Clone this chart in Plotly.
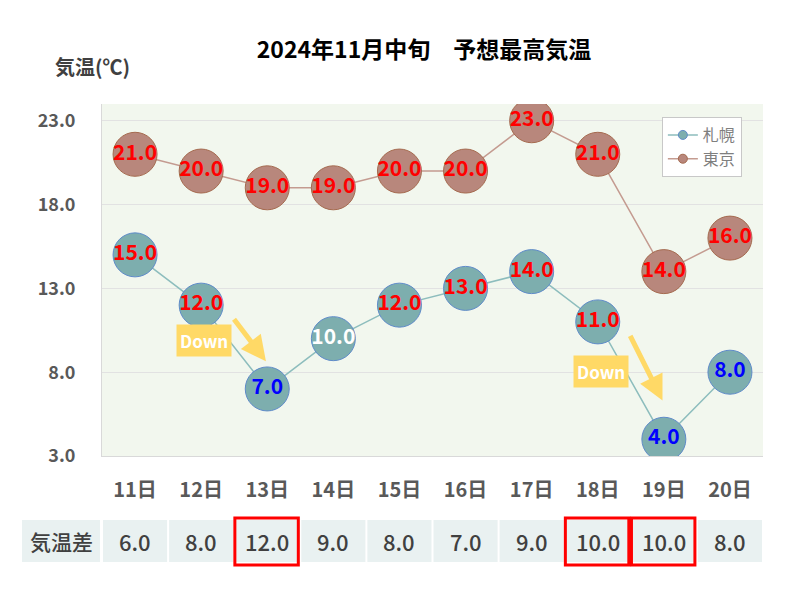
import plotly.graph_objects as go

days = ["11日", "12日", "13日", "14日", "15日", "16日", "17日", "18日", "19日", "20日"]
sapporo = [15.0, 12.0, 7.0, 10.0, 12.0, 13.0, 14.0, 11.0, 4.0, 8.0]
tokyo = [21.0, 20.0, 19.0, 19.0, 20.0, 20.0, 23.0, 21.0, 14.0, 16.0]
diff = [6.0, 8.0, 12.0, 9.0, 8.0, 7.0, 9.0, 10.0, 10.0, 8.0]
highlight_days = ["13日", "18日", "19日"]
down_from = ["12日", "18日"]

RED, BLUE, WHITE = "#ff0000", "#0000ff", "#ffffff"
sapporo_text_colors = [RED, RED, BLUE, WHITE, RED, RED, RED, RED, BLUE, BLUE]
tokyo_text_colors = [RED] * len(tokyo)

FONT = "Noto Sans CJK JP"
idx = list(range(len(days)))
N = len(days)

S_LINE, S_FILL, S_EDGE = "#8dbdbd", "#7daeae", "#5f8bc9"
T_LINE, T_FILL, T_EDGE = "#c49b90", "#b8877c", "#a56a4f"

fig = go.Figure()

# legend-only entries
fig.add_trace(go.Scatter(x=[None], y=[None], name="札幌", mode="lines+markers",
                         line=dict(color=S_LINE, width=1.5),
                         marker=dict(size=9, color=S_FILL, line=dict(color=S_EDGE, width=1))))
fig.add_trace(go.Scatter(x=[None], y=[None], name="東京", mode="lines+markers",
                         line=dict(color=T_LINE, width=1.5),
                         marker=dict(size=9, color=T_FILL, line=dict(color=T_EDGE, width=1))))

fig.add_trace(go.Scatter(
    x=idx, y=sapporo, mode="lines+markers+text", showlegend=False,
    text=[f"{v:.1f}" for v in sapporo], textposition="middle center",
    textfont=dict(family=FONT, size=21, color=sapporo_text_colors, weight="bold"),
    line=dict(color=S_LINE, width=1.5),
    marker=dict(size=44, color=S_FILL, line=dict(color=S_EDGE, width=1)),
    hoverinfo="skip"))
fig.add_trace(go.Scatter(
    x=idx, y=tokyo, mode="lines+markers+text", showlegend=False,
    text=[f"{v:.1f}" for v in tokyo], textposition="middle center",
    textfont=dict(family=FONT, size=21, color=tokyo_text_colors, weight="bold"),
    line=dict(color=T_LINE, width=1.5),
    marker=dict(size=44, color=T_FILL, line=dict(color=T_EDGE, width=1)),
    hoverinfo="skip"))

shapes = []
annotations = []


def px(i):
    """category index -> paper x"""
    return (i + 0.5) / N


# Table row
ROW_Y0, ROW_Y1 = -0.301, -0.182
ROW_YM = (ROW_Y0 + ROW_Y1) / 2
CELL = "#e9f1f1"
shapes.append(dict(type="rect", xref="paper", yref="paper", x0=px(-1.71), x1=px(-0.53),
                   y0=ROW_Y0, y1=ROW_Y1, fillcolor=CELL, line=dict(width=0), layer="below"))
annotations.append(dict(xref="paper", yref="paper", x=px(-1.12), y=ROW_YM,
                        xanchor="center", yanchor="middle", text="気温差", showarrow=False,
                        font=dict(family=FONT, size=21, color="#404040", weight=500)))
for i, d in enumerate(diff):
    shapes.append(dict(type="rect", xref="paper", yref="paper", x0=px(i - 0.485), x1=px(i + 0.485),
                       y0=ROW_Y0, y1=ROW_Y1, fillcolor=CELL, line=dict(width=0), layer="below"))
    annotations.append(dict(xref="paper", yref="paper", x=px(i), y=ROW_YM,
                            xanchor="center", yanchor="middle",
                            text=f"{d:.1f}", showarrow=False,
                            font=dict(family=FONT, size=22, color="#404040", weight=500)))
for day in highlight_days:
    i = days.index(day)
    shapes.append(dict(type="rect", xref="paper", yref="paper", x0=px(i - 0.49), x1=px(i + 0.47),
                       y0=-0.310, y1=-0.176, line=dict(color="#ff0000", width=3)))

# Down annotations
ARROW = "#ffd966"
for day in down_from:
    i = days.index(day)
    y_from = sapporo[i]
    y_to = sapporo[i + 1]
    annotations.append(dict(
        x=i + 0.98, y=y_to + (y_from - y_to) * 0.33,
        ax=i + 0.48, ay=y_from - 0.75,
        xref="x", yref="y", axref="x", ayref="y",
        text="", showarrow=True, arrowhead=2, arrowsize=1.0, arrowwidth=5,
        arrowcolor=ARROW))
    annotations.append(dict(
        x=i + 0.05, y=y_to + (y_from - y_to) * 0.58,
        xref="x", yref="y", text="<b>Down</b>", showarrow=False,
        bgcolor=ARROW, borderpad=3,
        font=dict(family=FONT, size=17, color="#ffffff")))

# Axis title
annotations.append(dict(xref="paper", yref="paper", x=-0.015, y=1.106,
                        xanchor="center", yanchor="middle",
                        text="気温(℃)", showarrow=False,
                        font=dict(family=FONT, size=20, color="#404040", weight="bold")))

fig.update_layout(
    width=800, height=600,
    margin=dict(l=102, r=37, t=104, b=144),
    paper_bgcolor="#ffffff", plot_bgcolor="#f2f7ee",
    title=dict(text="2024年11月中旬　予想最高気温", x=0.53, xanchor="center", y=0.917, yanchor="middle",
               font=dict(family=FONT, size=23, color="#000000", weight="bold")),
    xaxis=dict(range=[-0.5, N - 0.5], tickmode="array", tickvals=idx, ticktext=days,
               showgrid=False, zeroline=False, showline=True, linecolor="#d9d9d9", linewidth=1,
               ticks="", ticklabelstandoff=16,
               tickfont=dict(family=FONT, size=20, color="#595959", weight="bold")),
    yaxis=dict(range=[3, 24], tick0=3, dtick=5, tickformat=".1f",
               showgrid=True, gridcolor="#e2e2e2", gridwidth=1, zeroline=False,
               showline=True, linecolor="#d9d9d9", linewidth=1, ticks="", ticklabelstandoff=22,
               tickfont=dict(family=FONT, size=18, color="#595959", weight="bold")),
    legend=dict(x=0.847, y=0.963, xanchor="left", yanchor="top", bgcolor="#ffffff",
                bordercolor="#c8c8c8", borderwidth=1,
                font=dict(family=FONT, size=16, color="#7f7f7f"), tracegroupgap=2),
    shapes=shapes, annotations=annotations,
    showlegend=True,
)

fig.write_html("out.html")
